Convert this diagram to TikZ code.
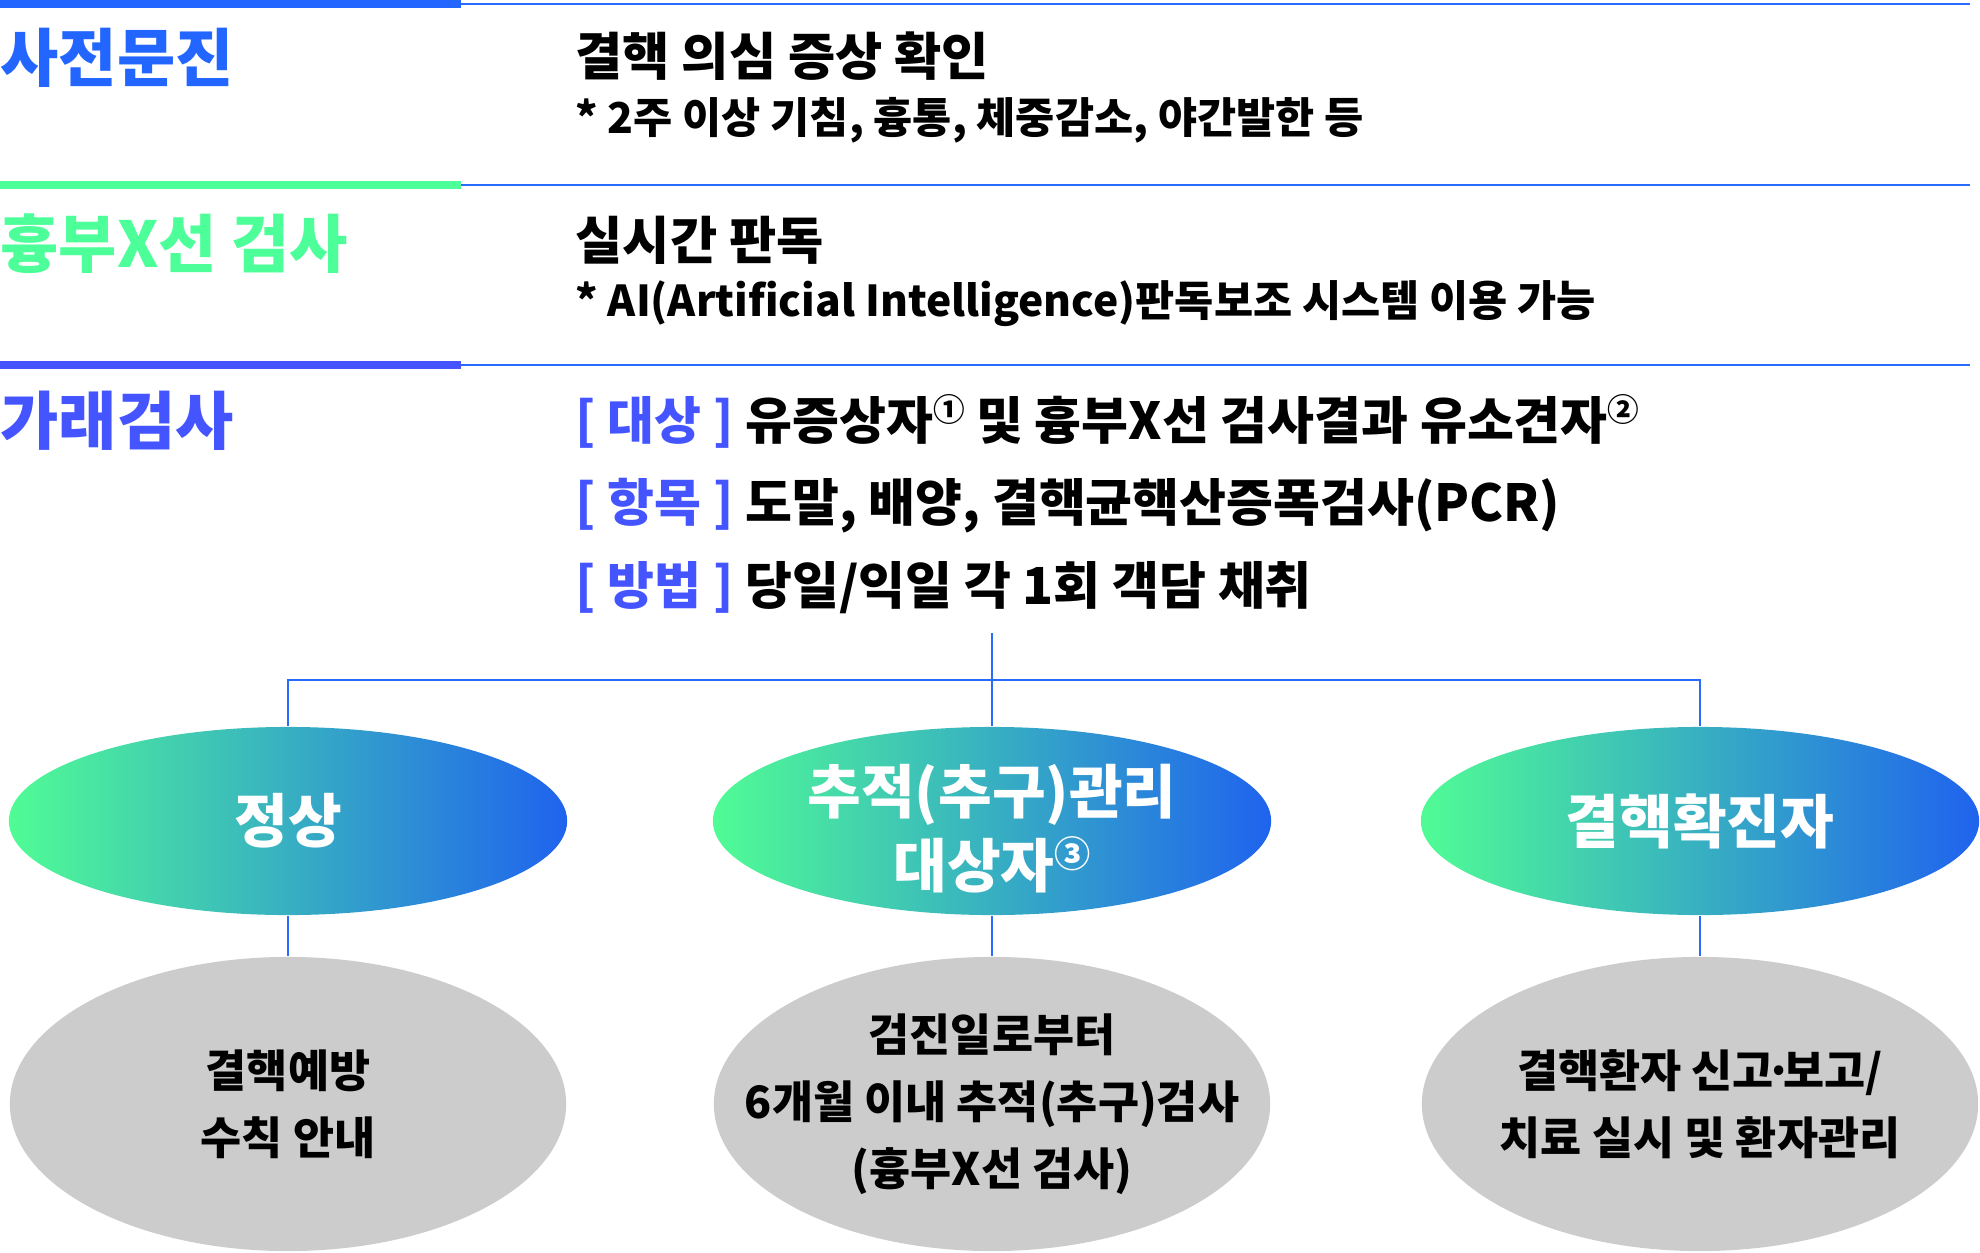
\documentclass[tikz,border=0pt]{standalone}
\usepackage{fontspec}
\setmainfont{Noto Sans CJK KR}
\usetikzlibrary{shapes.geometric}
\definecolor{hdblue}{HTML}{2266FF}
\definecolor{hdgreen}{HTML}{4DFF99}
\definecolor{hdindigo}{HTML}{4455FF}
\definecolor{lineblue}{HTML}{2A6BFF}
\definecolor{grgreen}{HTML}{50FC95}
\definecolor{grblue}{HTML}{1F63EE}
\definecolor{ellgray}{HTML}{CCCCCC}
\newcommand{\cnum}[1]{\raisebox{0.34em}{\scalebox{0.62}{#1}}}
\newcommand{\mdot}{\kern-0.2em·\kern-0.2em}
\begin{document}
\begin{tikzpicture}[x=0.01cm, y=-0.01cm,
  hd/.style={anchor=base west, inner sep=0pt, font=\fontsize{18}{22}\selectfont\bfseries},
  maintxt/.style={anchor=base west, inner sep=0pt, font=\fontsize{14.6}{17}\selectfont\bfseries},
  subtxt/.style={anchor=base west, inner sep=0pt, font=\fontsize{12.1}{14}\selectfont\bfseries},
  rowtxt/.style={anchor=base west, inner sep=0pt, font=\fontsize{14.5}{17}\selectfont\bfseries},
  rule/.style={line width=0.6pt, lineblue},
  link/.style={line width=0.6pt, lineblue},
  topell/.style={ellipse, minimum width=5.58cm, minimum height=1.88cm, inner sep=0pt, left color=grgreen, right color=grblue},
  botell/.style={ellipse, minimum width=5.56cm, minimum height=2.94cm, inner sep=0pt, fill=ellgray},
  toptxt/.style={text=white, align=center, inner sep=0pt, font=\fontsize{16.6}{21}\selectfont\bfseries},
  bottxt/.style={align=center, inner sep=0pt, font=\fontsize{12.7}{19}\selectfont\bfseries}]
\useasboundingbox (0,0) rectangle (1980,1252);

% section rules
\draw[rule] (0,4) -- (1970,4);
\fill[hdblue] (0,0) rectangle (461,8);
\draw[rule] (0,185) -- (1970,185);
\fill[hdgreen] (0,181) rectangle (461,189);
\draw[rule] (0,365) -- (1970,365);
\fill[hdindigo] (0,361) rectangle (461,369);

% headings
\node[hd, text=hdblue] (h1) at (0,82) {사전문진};
\node[hd, text=hdgreen] (h2) at (0,268) {흉부X선 검사};
\node[hd, text=hdindigo] (h3) at (0,444) {가래검사};

% contents
\node[maintxt] (q1) at (575,76) {결핵 의심 증상 확인};
\node[subtxt] (q2) at (575,134) {* 2주 이상 기침, 흉통, 체중감소, 야간발한 등};
\node[maintxt] (x1) at (575,260) {실시간 판독};
\node[subtxt] (x2) at (575,317) {* AI(Artificial Intelligence)판독보조 시스템 이용 가능};
\node[rowtxt] (s1) at (575,439) {\textcolor{hdindigo}{[ 대상 ]} 유증상자\cnum{①} 및 흉부X선 검사결과 유소견자\cnum{②}};
\node[rowtxt] (s2) at (575,521) {\textcolor{hdindigo}{[ 항목 ]} 도말, 배양, 결핵균핵산증폭검사(PCR)};
\node[rowtxt] (s3) at (575,604) {\textcolor{hdindigo}{[ 방법 ]} 당일/익일 각 1회 객담 채취};

% result ellipses
\node[topell] (n1) at (288,821) {};
\node[topell] (n2) at (992,821) {};
\node[topell] (n3) at (1700,821) {};
\node[toptxt] at (n1) {정상};
\node[toptxt] at ([yshift=-0.08cm]n2) {추적(추구)관리\\대상자\cnum{③}};
\node[toptxt] at (n3) {결핵확진자};

% follow-up ellipses
\node[botell] (g1) at (288,1104) {};
\node[botell] (g2) at (992,1104) {};
\node[botell] (g3) at (1700,1104) {};
\node[bottxt] at (g1) {결핵예방\\수칙 안내};
\node[bottxt] at (g2) {검진일로부터\\6개월 이내 추적(추구)검사\\(흉부X선 검사)};
\node[bottxt] at (g3) {결핵환자 신고\mdot 보고/\\치료 실시 및 환자관리};

% connectors
\coordinate (hub) at (992,633);
\coordinate (bar) at (992,680);
\draw[link] (hub) -- (n2.north);
\draw[link] (n1.north) |- (bar) -| (n3.north);
\draw[link] (n1.south) -- (g1.north);
\draw[link] (n2.south) -- (g2.north);
\draw[link] (n3.south) -- (g3.north);
\end{tikzpicture}
\end{document}
